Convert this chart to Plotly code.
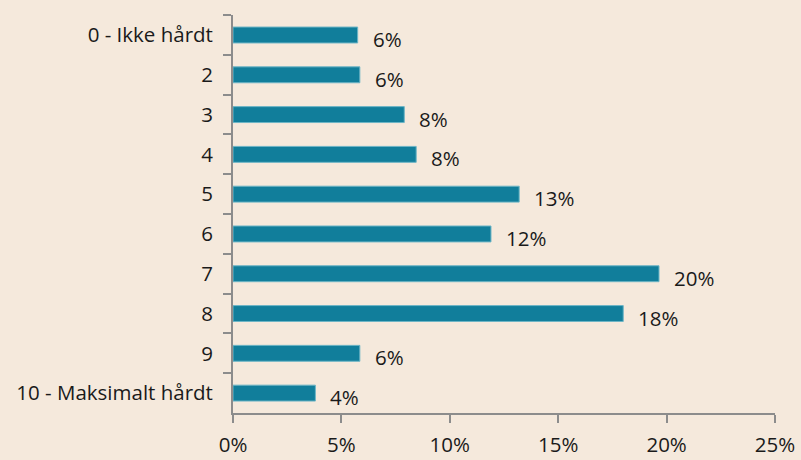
import plotly.graph_objects as go

categories = ["0 - Ikke hårdt", "2", "3", "4", "5", "6", "7", "8", "9", "10 - Maksimalt hårdt"]
values = [5.75, 5.85, 7.9, 8.45, 13.2, 11.9, 19.65, 18.0, 5.85, 3.8]
labels = ["6%", "6%", "8%", "8%", "13%", "12%", "20%", "18%", "6%", "4%"]
x_ticks = [0, 5, 10, 15, 20, 25]
x_tick_labels = ["0%", "5%", "10%", "15%", "20%", "25%"]

bg = "#F5E9DC"
axis_color = "#8C8C8C"
font = dict(family="Open Sans, Noto Sans, sans-serif", size=20.5, color="#1a1a1a")

fig = go.Figure()
fig.add_trace(go.Bar(
    y=categories, x=values, orientation="h", width=0.4,
    marker=dict(color="#117E9B", line=dict(color="#6DB5C6", width=1)),
    hoverinfo="skip",
))
for i, (v, t) in enumerate(zip(values, labels)):
    fig.add_annotation(x=v, y=i, text=t, showarrow=False, xanchor="left",
                       xshift=13, yshift=-4, font=font)

fig.update_layout(
    width=801, height=460,
    margin=dict(l=233, r=26, t=15, b=47),
    paper_bgcolor=bg, plot_bgcolor=bg,
    showlegend=False, font=font,
    xaxis=dict(range=[0, 25], tickvals=x_ticks, ticktext=x_tick_labels,
               showgrid=False, zeroline=False, showline=True, linecolor=axis_color,
               linewidth=2, ticks="outside", ticklen=8, tickwidth=2, tickcolor=axis_color,
               ticklabelstandoff=4, fixedrange=True, automargin=False),
    yaxis=dict(type="category", categoryorder="array", categoryarray=categories,
               autorange="reversed",
               showgrid=False, zeroline=False, showline=True, linecolor=axis_color,
               linewidth=2, ticks="outside", ticklen=8, tickwidth=2, tickcolor=axis_color,
               tickson="boundaries", ticklabelstandoff=14, fixedrange=True, automargin=False),
)
fig.write_html("out.html", config={"displayModeBar": False})

with open("out.html", encoding="utf-8") as f:
    html = f.read()
html = html.replace("<head>", "<head><style>html,body{margin:0;padding:0;background:%s;}</style>" % bg, 1)
with open("out.html", "w", encoding="utf-8") as f:
    f.write(html)
